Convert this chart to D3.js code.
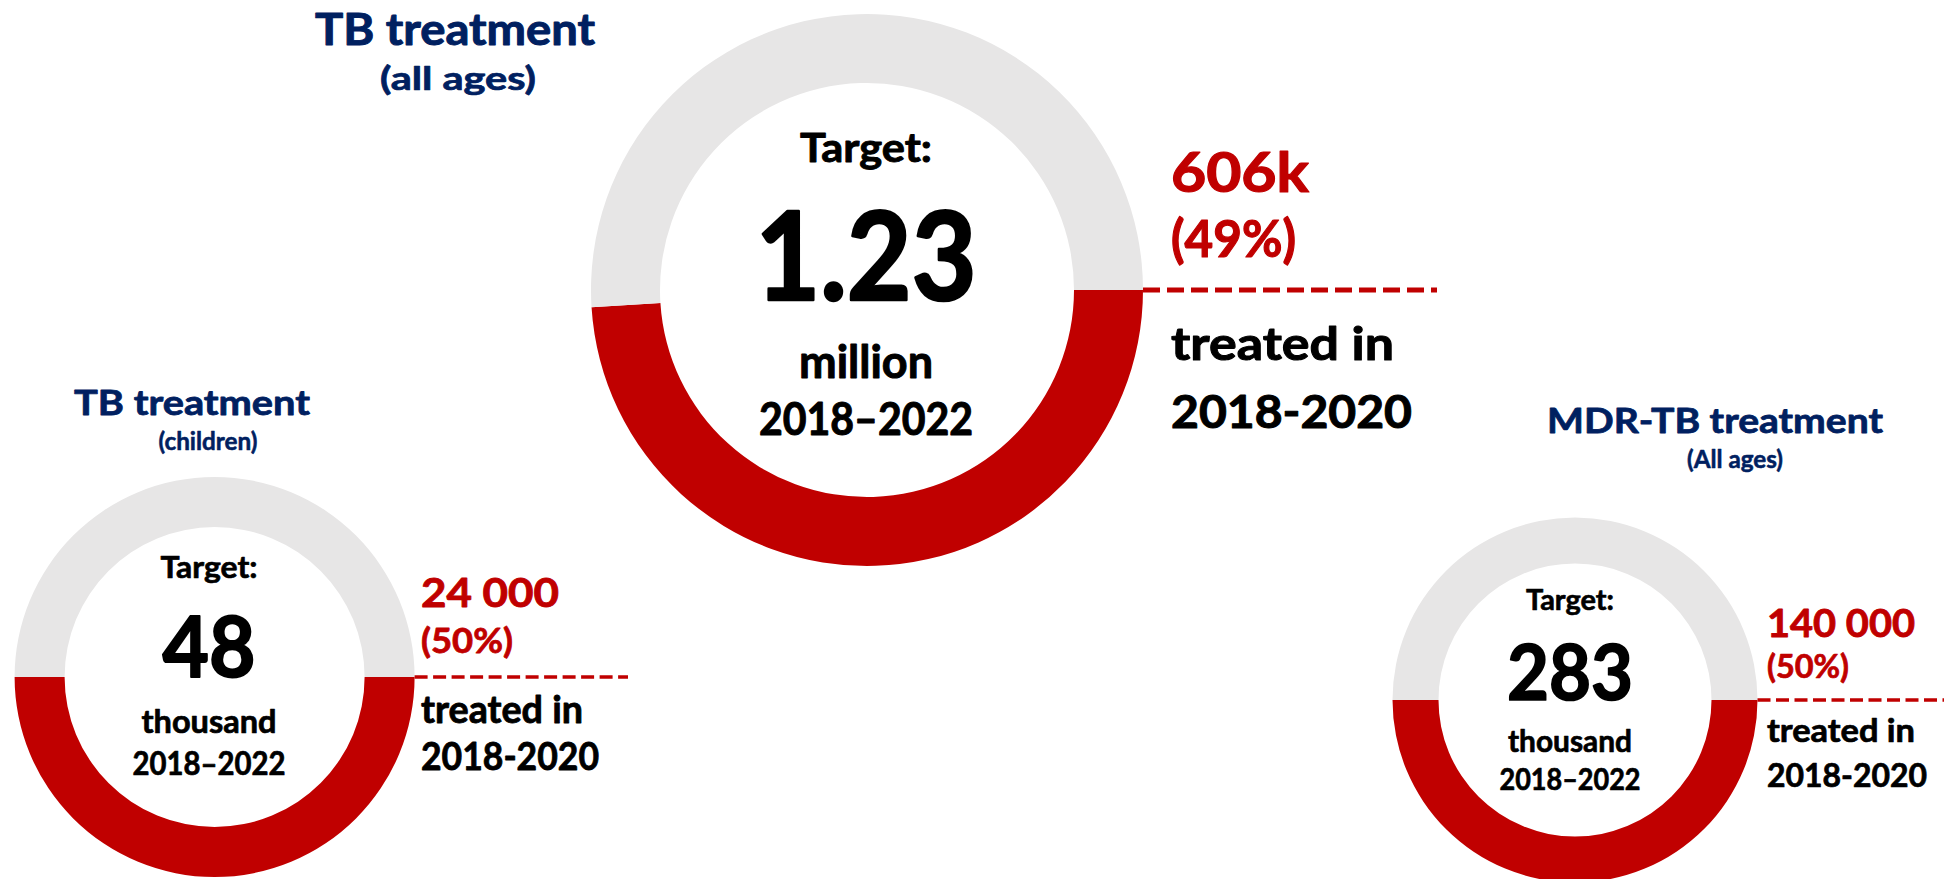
<!DOCTYPE html>
<html>
<head>
<meta charset="utf-8">
<script src="https://cdn.jsdelivr.net/npm/d3@7"></script>
<style>
  html, body { margin: 0; padding: 0; background: #ffffff; }
  svg { display: block; }
  text { font-family: Lato, "Open Sans", sans-serif; font-weight: 700; }
</style>
</head>
<body>
<svg id="chart" width="1944" height="879"></svg>
<script>
// ---------------- DATA ----------------
const titles        = ["TB treatment", "TB treatment", "MDR-TB treatment"];
const subtitles     = ["(all ages)", "(children)", "(All ages)"];
const targetLabel   = "Target:";
const targetValues  = ["1.23", "48", "283"];
const targetUnits   = ["million", "thousand", "thousand"];
const targetPeriod  = "2018–2022";
const treatedValues = ["606k", "24 000", "140 000"];
const treatedShares = [49, 50, 50];           // % of target treated
const treatedText   = "treated in";
const treatedPeriod = "2018-2020";

// ---------------- LAYOUT (positions / sizes, not data) ----------------
// each text: [x or y, width, fontSize]
const layout = [
  { cx: 867, cy: 290, R: 276, r: 207, dashEnd: 1437, dashW: 5, dash: "17,7",
    title: [455, 45, 280, 43], sub: [458, 90, 156, 32],
    cx2: 866, center: [[162, 132, 40], [300, 221, 123], [378, 134, 45], [435, 214, 45]],
    rx: 1171, right: [[192, 138, 55], [257, 125, 51], [360, 223, 46], [428, 241, 46]] },
  { cx: 214.6, cy: 677, R: 200, r: 150, dashEnd: 628, dashW: 3.5, dash: "13,5.5",
    title: [192, 415, 236, 35], sub: [208, 450, 99, 25],
    cx2: 209, center: [[578, 97, 30], [677, 93, 84], [733, 135, 33], [775, 153, 33]],
    rx: 421, right: [[607, 138, 41], [653, 92, 35], [723, 162, 38], [770, 178, 38]] },
  { cx: 1575, cy: 700, R: 182.5, r: 136.5, dashEnd: 1944, dashW: 3.5, dash: "13,5.5",
    title: [1715, 433, 336, 35], sub: [1735, 468, 96, 25],
    cx2: 1570, center: [[610, 88, 28], [700, 126, 77], [752, 124, 31], [790, 141, 31]],
    rx: 1767, right: [[637, 148, 39], [678, 82, 32], [742, 148, 33], [787, 160, 33]] }
];

const colors = { done: "#c00000", rest: "#e7e6e6", title: "#002060", text: "#000000" };

const svg = d3.select("#chart");

function placeText(g, str, x, y, w, fs, anchor, fill) {
  return g.append("text")
    .attr("x", x).attr("y", y)
    .attr("text-anchor", anchor)
    .attr("fill", fill)
    .attr("stroke", fill)
    .attr("stroke-width", (fs * 0.022).toFixed(2))
    .attr("stroke-linejoin", "round")
    .attr("textLength", w)
    .attr("lengthAdjust", "spacingAndGlyphs")
    .style("font-size", fs + "px")
    .text(str);
}

const pie = d3.pie().sort(null).value(d => d.v)
  .startAngle(Math.PI / 2).endAngle(Math.PI / 2 + 2 * Math.PI);

layout.forEach((L, i) => {
  const g = svg.append("g");
  const share = treatedShares[i];
  const parts = [{ k: "done", v: share }, { k: "rest", v: 100 - share }];
  const arc = d3.arc().innerRadius(L.r).outerRadius(L.R);

  g.append("g").attr("transform", `translate(${L.cx},${L.cy})`)
    .selectAll("path")
    .data(pie(parts))
    .join("path")
    .attr("d", arc)
    .attr("fill", d => colors[d.data.k]);

  // dashed leader line from the ring's right edge
  g.append("line")
    .attr("x1", L.cx + L.R).attr("x2", L.dashEnd)
    .attr("y1", L.cy).attr("y2", L.cy)
    .attr("stroke", colors.done)
    .attr("stroke-width", L.dashW)
    .attr("stroke-dasharray", L.dash);

  // titles
  placeText(g, titles[i], L.title[0], L.title[1], L.title[2], L.title[3], "middle", colors.title);
  placeText(g, subtitles[i], L.sub[0], L.sub[1], L.sub[2], L.sub[3], "middle", colors.title);

  // centre texts
  const centreStrings = [targetLabel, targetValues[i], targetUnits[i], targetPeriod];
  centreStrings.forEach((s, j) => {
    const c = L.center[j];
    placeText(g, s, L.cx2, c[0], c[1], c[2], "middle", colors.text);
  });

  // right-hand texts
  const rightStrings = [treatedValues[i], `(${share}%)`, treatedText, treatedPeriod];
  const rightFill = [colors.done, colors.done, colors.text, colors.text];
  rightStrings.forEach((s, j) => {
    const c = L.right[j];
    placeText(g, s, L.rx, c[0], c[1], c[2], "start", rightFill[j]);
  });
});
</script>
</body>
</html>
